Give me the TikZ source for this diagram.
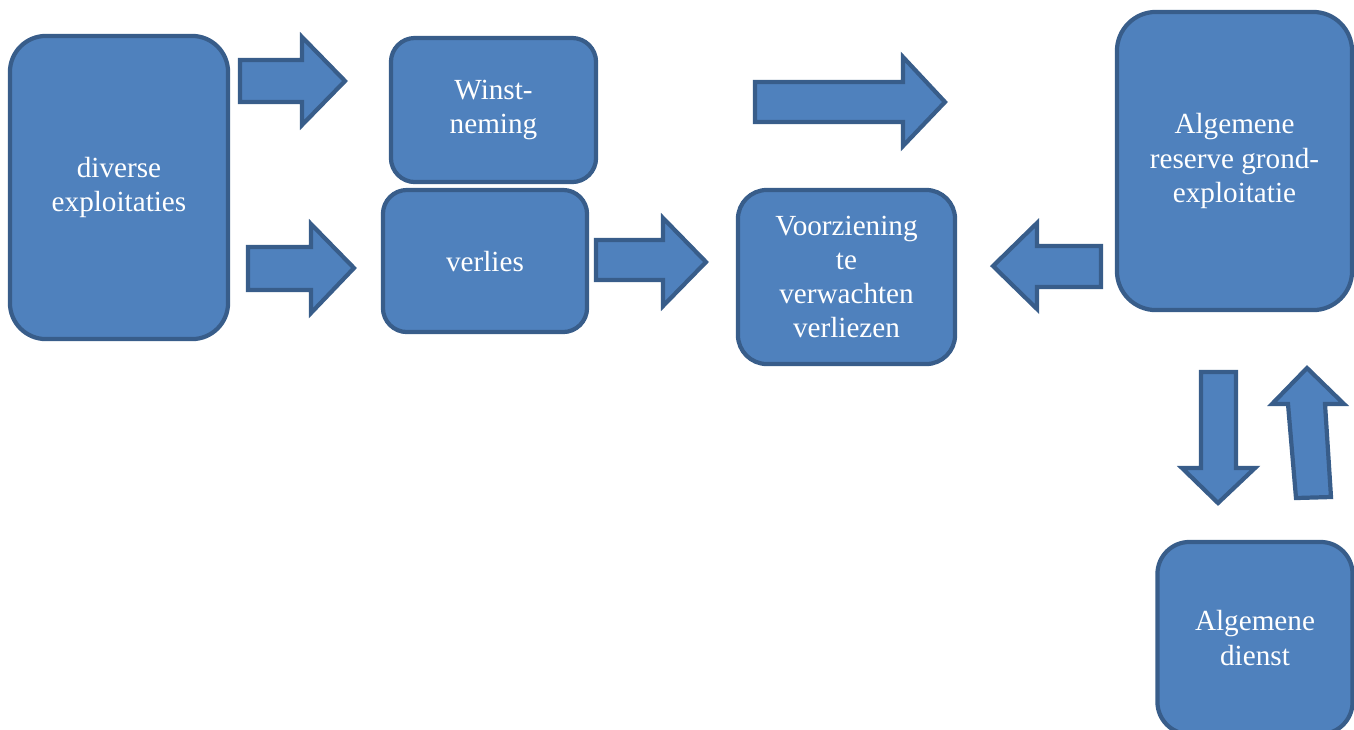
\documentclass[tikz,border=0pt]{standalone}
\usepackage{fontspec}
\setmainfont{Liberation Serif}
\definecolor{boxfill}{RGB}{79,129,189}
\definecolor{boxline}{RGB}{56,93,138}
\begin{document}
\begin{tikzpicture}[x=0.01cm, y=-0.01cm,
    box/.style={draw=boxline, fill=boxfill, line width=1.2pt, text=white,
      align=center, inner sep=0pt, font=\fontsize{8.3}{9.7}\selectfont},
    blockarrow/.style={draw=boxline, fill=boxfill, line width=1.2pt, line join=miter}]
  \useasboundingbox (0,0) rectangle (1354,729);
  \node[box, minimum width=2.18cm, minimum height=3.03cm, rounded corners=.36cm] (div) at (119,187.5) {diverse\\exploitaties};
  \node[box, minimum width=2.05cm, minimum height=1.44cm, rounded corners=.24cm] (winst) at (493.5,110) {Winst-\\neming};
  \node[box, minimum width=2.04cm, minimum height=1.42cm, rounded corners=.24cm] (verl) at (485,261) {verlies};
  \node[box, minimum width=2.17cm, minimum height=1.74cm, rounded corners=.29cm] (voorz) at (846.5,277) {Voorziening\\te\\verwachten\\verliezen};
  \node[box, minimum width=2.35cm, minimum height=2.98cm, rounded corners=.39cm] (res) at (1234.5,161) {Algemene\\reserve grond-\\exploitatie};
  \node[box, minimum width=1.95cm, minimum height=1.92cm, rounded corners=.32cm] (alg) at (1255,638) {Algemene\\dienst};
  % block arrows
  \draw[blockarrow] (240,60) -- (302,60) -- (302,37) -- (345,81) -- (302,125) -- (302,102) -- (240,102) -- cycle;
  \draw[blockarrow] (248,247) -- (311,247) -- (311,224) -- (354,268) -- (311,313) -- (311,290) -- (248,290) -- cycle;
  \draw[blockarrow] (596,240) -- (663,240) -- (663,218) -- (706,262) -- (663,306) -- (663,280) -- (596,280) -- cycle;
  \draw[blockarrow] (755,82) -- (903,82) -- (903,57) -- (945,102) -- (903,146) -- (903,122) -- (755,122) -- cycle;
  \draw[blockarrow] (1101,246) -- (1037,246) -- (1037,223) -- (993,266) -- (1037,309) -- (1037,287) -- (1101,287) -- cycle;
  \draw[blockarrow] (1201,372) -- (1236,372) -- (1236,468) -- (1255,468) -- (1218,503) -- (1182,468) -- (1201,468) -- cycle;
  \draw[blockarrow] (1296,498) -- (1288,404) -- (1272,404) -- (1307,368) -- (1344,404) -- (1325,404) -- (1331,497) -- cycle;
\end{tikzpicture}
\end{document}
